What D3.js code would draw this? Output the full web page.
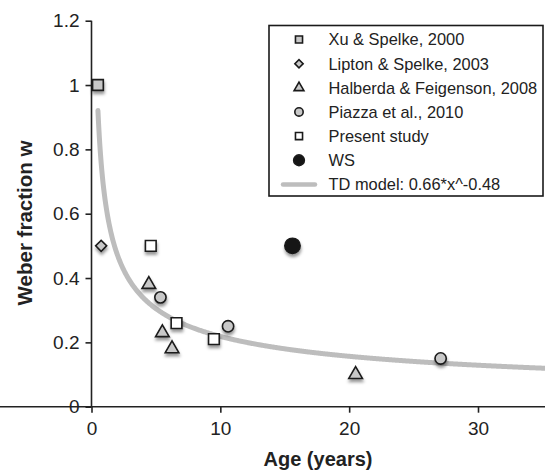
<!DOCTYPE html>
<html><head><meta charset="utf-8">
<script src="https://cdn.jsdelivr.net/npm/d3@7"></script>
<style>
body{margin:0;background:#fff;}
svg{display:block;font-family:"Liberation Sans",Arial,Helvetica,sans-serif;}
</style></head>
<body>
<svg id="chart" width="545" height="470"></svg>
<script>
// ---- data ----
const xuAge = [0.5], xuW = [1.0];
const liptonAge = [0.75], liptonW = [0.5];
const halberdaAge = [4.45, 5.5, 6.25, 20.5], halberdaW = [0.38, 0.23, 0.18, 0.10];
const piazzaAge = [5.35, 10.6, 27.1], piazzaW = [0.34, 0.25, 0.15];
const presentAge = [4.6, 6.6, 9.5], presentW = [0.50, 0.26, 0.21];
const wsAge = [15.6], wsW = [0.50];
const modelA = 0.66, modelB = -0.48, modelStart = 0.5, modelEnd = 35.2;
const xTicks = [0, 10, 20, 30];
const yTicks = [0, 0.2, 0.4, 0.6, 0.8, 1, 1.2];
const legendLabels = ["Xu & Spelke, 2000","Lipton & Spelke, 2003","Halberda & Feigenson, 2008","Piazza et al., 2010","Present study","WS","TD model: 0.66*x^-0.48"];

const svg = d3.select("#chart");
const x = d3.scaleLinear().domain([0, 35.2]).range([91.5, 545]);
const y = d3.scaleLinear().domain([0, 1.2]).range([406.7, 20.7]);

const defs = svg.append("defs");
const f = defs.append("filter").attr("id","sh").attr("x","-50%").attr("y","-50%").attr("width","200%").attr("height","220%");
f.append("feDropShadow").attr("dx",0.5).attr("dy",3).attr("stdDeviation",1.6).attr("flood-color","#000").attr("flood-opacity",0.4);

// model curve
const ages = d3.range(modelStart, modelEnd + 0.001, 0.05);
const line = d3.line().x(d => x(d)).y(d => y(modelA * Math.pow(d, modelB))).curve(d3.curveLinear);
svg.append("path").datum(ages).attr("d", line).attr("fill","none")
  .attr("stroke","#bdbdbd").attr("stroke-width",5).attr("stroke-linecap","round");

// axes
const xAxis = svg.append("g").attr("transform",`translate(0,${y(0)})`)
  .call(d3.axisBottom(x).tickValues(xTicks).tickSize(6).tickPadding(9).tickSizeOuter(0));
const yAxis = svg.append("g").attr("transform",`translate(${x(0)},0)`)
  .call(d3.axisLeft(y).tickValues(yTicks).tickFormat(d => d3.format("")(+d.toFixed(1))).tickSize(6).tickPadding(6).tickSizeOuter(0));
[xAxis, yAxis].forEach(a => {
  a.select(".domain").attr("stroke","#222").attr("stroke-width",1.6);
  a.selectAll(".tick line").attr("stroke","#222").attr("stroke-width",1.6);
  a.selectAll(".tick text").attr("fill","#222").style("font-size","19px").style("font-family","'Liberation Sans',Arial,sans-serif");
});
// extend x-axis domain to the right edge
xAxis.select(".domain").attr("d", `M0,0H545`);
yAxis.select(".domain").attr("d", `M0,${y(1.2)}V${y(0)}`);

// axis titles
svg.append("text").attr("x", 318).attr("y", 466).attr("text-anchor","middle")
  .attr("font-weight","bold").attr("font-size",20).attr("fill","#222").text("Age (years)");
svg.append("text").attr("transform","translate(32,223) rotate(-90)").attr("text-anchor","middle")
  .attr("font-weight","bold").attr("font-size",20.5).attr("fill","#222").text("Weber fraction w");

// markers
const series = [
  {age: xuAge, w: xuW, type: d3.symbolSquare, size: 115, rot: 0, fill: "#c8c8c8", lsize: 50},
  {age: liptonAge, w: liptonW, type: d3.symbolSquare, size: 60, rot: 45, fill: "#c8c8c8", lsize: 34},
  {age: halberdaAge, w: halberdaW, type: d3.symbolTriangle, size: 80, rot: 0, fill: "#c8c8c8", lsize: 42},
  {age: piazzaAge, w: piazzaW, type: d3.symbolCircle, size: 100, rot: 0, fill: "#c8c8c8", lsize: 55},
  {age: presentAge, w: presentW, type: d3.symbolSquare, size: 115, rot: 0, fill: "#ffffff", lsize: 50},
  {age: wsAge, w: wsW, type: d3.symbolCircle, size: 185, rot: 0, fill: "#151515", lsize: 90}
];
series.forEach(s => {
  svg.append("g").attr("filter","url(#sh)").selectAll("path").data(s.age.map((a,i)=>[a, s.w[i]])).join("path")
    .attr("d", d3.symbol().type(s.type).size(s.size))
    .attr("transform", d => `translate(${x(d[0])},${y(d[1])}) rotate(${s.rot})`)
    .attr("fill", s.fill).attr("stroke","#1a1a1a").attr("stroke-width",1.6);
});

// legend
const lg = svg.append("g");
lg.append("rect").attr("x",269).attr("y",25.5).attr("width",274).attr("height",170.5)
  .attr("fill","#fff").attr("stroke","#1a1a1a").attr("stroke-width",1.6);
const rowY = i => 39.5 + i * 24.15;
series.forEach((s, i) => {
  lg.append("path").attr("d", d3.symbol().type(s.type).size(s.lsize)())
    .attr("transform", `translate(299,${rowY(i)}) rotate(${s.rot})`)
    .attr("fill", s.fill).attr("stroke","#1a1a1a").attr("stroke-width",1.6);
});
lg.append("line").attr("x1",283).attr("x2",315).attr("y1",rowY(6)).attr("y2",rowY(6))
  .attr("stroke","#bdbdbd").attr("stroke-width",4.5).attr("stroke-linecap","round");
lg.selectAll("text.l").data(legendLabels).join("text").attr("class","l")
  .attr("x",328.5).attr("y",(d,i)=>rowY(i)).attr("dy","0.36em")
  .attr("font-size",16.4).attr("fill","#222").text(d=>d);
</script>
</body></html>
